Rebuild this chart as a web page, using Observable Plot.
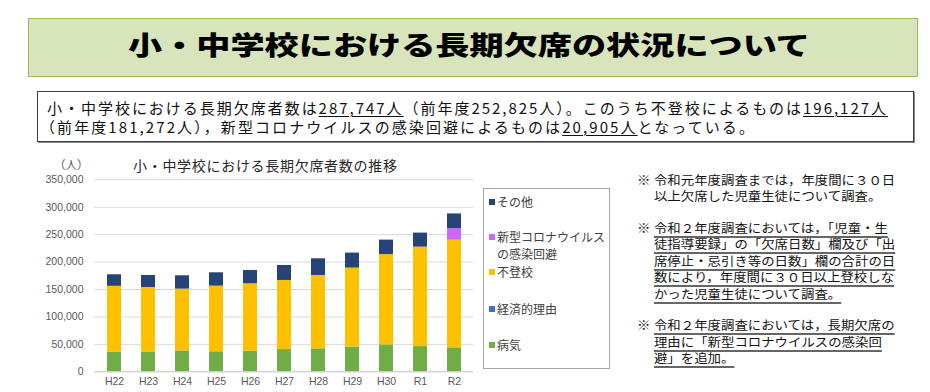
<!DOCTYPE html>
<html>
<head>
<meta charset="utf-8">
<script src="https://cdn.jsdelivr.net/npm/d3@7"></script>
<script src="https://cdn.jsdelivr.net/npm/@observablehq/plot@0.6"></script>
<style>
  html, body { margin: 0; padding: 0; background: #fff; }
  body { width: 930px; height: 392px; position: relative; overflow: hidden;
         font-family: "Noto Sans CJK JP", "Noto Sans", sans-serif; color: #111; }
  .abs { position: absolute; white-space: nowrap; }
  #titlebox { left: 28px; top: 18px; width: 888px; height: 57px; background: #d8e4bc;
              border: 1.5px solid #9bbb59; }
  #title { font-weight: 900; font-size: 26px; line-height: 30px; color: #000; transform-origin: 0 50%; }
  #textbox { left: 37px; top: 91px; width: 875px; height: 49px; border: 1.5px solid #404040;
             box-shadow: 1px 1px 0 #888; background: #fff; }
  .tb { font-size: 15px; line-height: 19px; color: #111; }
  .tb u { text-decoration-thickness: 1px; text-underline-offset: 2px; }
  #chart { left: 0; top: 150px; }
  #ctitle { font-size: 14px; color: #262626; letter-spacing: 0.7px; line-height: 18px; }
  #unit { font-size: 11.5px; color: #595959; line-height: 14px; }
  #legend { left: 483px; top: 188px; width: 125px; height: 179px; border: 1px solid #a6a6a6; background: #fff; }
  .li { position: absolute; left: 13px; font-size: 12px; line-height: 17px; color: #404040; white-space: nowrap; }
  .sw { position: absolute; left: 5px; width: 6px; height: 6px; }
  .note { position: absolute; left: 637px; font-size: 12px; line-height: 16.5px; color: #111; display: flex;
          transform: scaleX(1.117); transform-origin: 0 0; white-space: nowrap; }
  .note .mk { width: 15.2px; flex: none; }
  .note .ul { text-decoration: underline; text-decoration-color: #666; text-decoration-thickness: 1.5px; text-underline-offset: 3px; }
</style>
</head>
<body>
<script>
// ---- data ----
const years = ["H22","H23","H24","H25","H26","H27","H28","H29","H30","R1","R2"];
const seriesNames = ["病気", "経済的理由", "不登校", "新型コロナウイルスの感染回避", "その他"];
const seriesColors = ["#70ad47", "#4472c4", "#ffc000", "#cc66ff", "#264478"];
const byouki   = [35900, 36200, 38000, 36500, 37500, 40500, 41900, 45000, 49000, 46000, 43700];
const keizai   = [50, 40, 40, 40, 30, 30, 20, 20, 20, 20, 20];
const futoukou = [119891, 117458, 112689, 119617, 122897, 125991, 133683, 144031, 164528, 181272, 196127];
const corona   = [0, 0, 0, 0, 0, 0, 0, 0, 0, 0, 20905];
const sonota   = [21000, 21900, 24300, 24300, 24300, 27300, 30400, 27300, 26500, 25533, 26995];
const yTicks   = [0, 50000, 100000, 150000, 200000, 250000, 300000, 350000];
const yDomain  = [0, 350000];
const legendOrder = ["その他", "新型コロナウイルス\nの感染回避", "不登校", "経済的理由", "病気"];

const seriesValues = [byouki, keizai, futoukou, corona, sonota];
const rows = [];
seriesNames.forEach((s, i) => years.forEach((y, j) => rows.push({year: y, series: s, value: seriesValues[i][j]})));

// ---- header boxes ----
function el(cls, id, html, style) {
  const d = document.createElement("div");
  d.className = cls; if (id) d.id = id; d.innerHTML = html; if (style) d.style.cssText = style;
  document.body.appendChild(d); return d;
}
el("abs", "titlebox", "");
const title = el("abs", "title", "小・中学校における長期欠席の状況について", "left:128px; top:29px;");
el("abs", "textbox", "");
const l1 = el("abs tb", null, "小・中学校における長期欠席者数は<u>287,747人</u>（前年度252,825人）。このうち不登校によるものは<u>196,127人</u>", "left:47px; top:98px;");
const l2 = el("abs tb", null, "（前年度181,272人），新型コロナウイルスの感染回避によるものは<u>20,905人</u>となっている。", "left:40px; top:117px;");

// ---- chart ----
const chart = Plot.plot({
  width: 480, height: 242,
  marginLeft: 94, marginRight: 7, marginTop: 29.3, marginBottom: 20.7,
  style: {fontSize: "10.5px", color: "#595959", fontFamily: "'Liberation Sans', Arial, sans-serif", background: "transparent"},
  x: {domain: years, paddingInner: 0.59, paddingOuter: 0.3, label: null, tickSize: 0, tickPadding: 6},
  y: {domain: yDomain, ticks: yTicks, label: null, tickSize: 0, tickPadding: 11, tickFormat: d3.format(",")},
  color: {domain: seriesNames, range: seriesColors},
  marks: [
    Plot.gridY(yTicks, {stroke: "#d9d9d9", strokeOpacity: 1, strokeWidth: 1}),
    Plot.barY(rows, {x: "year", y: "value", fill: "series", z: "series", order: seriesNames}),
    Plot.ruleY([0], {stroke: "#d0d0d0"})
  ]
});
const wrap = el("abs", "chart", "");
wrap.appendChild(chart);
el("abs", "ctitle", "小・中学校における長期欠席者数の推移", "left:133px; top:156px;");
el("abs", "unit", "（人）", "left:54px; top:157px;");

// ---- legend ----
const lg = el("abs", "legend", "");
const legendTops = [4, 39, 74, 111, 147];
legendOrder.forEach((name, i) => {
  const key = name.replace("\n", "");
  const c = seriesColors[seriesNames.indexOf(key)];
  const sw = document.createElement("div"); sw.className = "sw";
  sw.style.top = (legendTops[i] + 5.5) + "px"; sw.style.background = c; lg.appendChild(sw);
  const t = document.createElement("div"); t.className = "li";
  t.style.top = legendTops[i] + "px"; t.innerHTML = name.replace("\n", "<br>"); lg.appendChild(t);
});

// ---- notes ----
function note(top, lines, ul) {
  const n = el("note", null, "", "top:" + top + "px;");
  const body = lines.join("<br>");
  n.innerHTML = '<span class="mk">※</span><div>' + (ul ? '<span class="ul">' + body + '</span>' : body) + "</div>";
}
note(171.5, ["令和元年度調査までは，年度間に３０日", "以上欠席した児童生徒について調査。"], false);
note(219.8, ["令和２年度調査においては，「児童・生", "徒指導要録」の「欠席日数」欄及び「出", "席停止・忌引き等の日数」欄の合計の日", "数により，年度間に３０日以上登校しな", "かった児童生徒について調査。"], true);
note(317.2, ["令和２年度調査においては，長期欠席の", "理由に「新型コロナウイルスの感染回", "避」を追加。"], true);

// ---- fit widths of header text to the reference layout ----
function fitSpacing(node, target) {
  const w = node.getBoundingClientRect().width;
  const n = node.textContent.length;
  node.style.letterSpacing = ((target - w) / n) + "px";
}
fitSpacing(l1, 841);
fitSpacing(l2, 716);
const tw = title.getBoundingClientRect().width;
title.style.transform = "scaleX(" + (682 / tw) + ")";
</script>
</body>
</html>
